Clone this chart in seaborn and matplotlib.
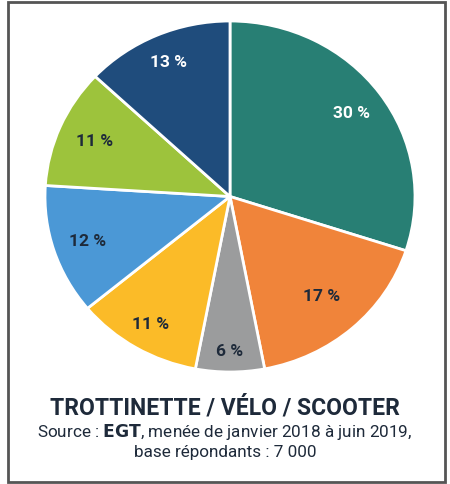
import matplotlib
matplotlib.use("Agg")
import matplotlib.pyplot as plt
import seaborn as sns
import numpy as np
from matplotlib.patches import Rectangle

sns.set_theme(style="white")
plt.rcParams['font.family'] = ['Roboto', 'DejaVu Sans']

values = [30, 17, 6, 11, 12, 11, 13]
labels = ["30 %", "17 %", "6 %", "11 %", "12 %", "11 %", "13 %"]
colors = ["#287f74", "#f0843a", "#9b9c9d", "#fbbb28", "#4b98d6", "#9dc33c", "#1f4c7c"]
label_colors = ["white", "#1e2a3a", "#1e2a3a", "#1e2a3a", "#1e2a3a", "#1e2a3a", "white"]
label_radii = [0.81, 0.75, 0.88, 0.84, 0.81, 0.80, 0.84]
title = "TROTTINETTE / VÉLO / SCOOTER"
source_line1 = "Source : $\\bf{EGT}$, menée de janvier 2018 à juin 2019,"
source_line2 = "base répondants : 7 000"

fig = plt.figure(figsize=(4.5, 4.85), dpi=100)
ax = fig.add_axes([45/450, (485-373)/485, 370/450, 351/485])
wedges, _ = ax.pie(values, colors=colors, startangle=90, counterclock=False,
                   wedgeprops=dict(edgecolor="white", linewidth=2), radius=1.0)
ax.set_aspect("auto")
ax.set_xlim(-1, 1)
ax.set_ylim(-1, 1)
cum = np.cumsum([0] + values)
for i, (v, lab) in enumerate(zip(values, labels)):
    mid = 90 - (cum[i] + v / 2) / sum(values) * 360
    r = label_radii[i]
    ax.text(r*np.cos(np.radians(mid)), r*np.sin(np.radians(mid)), lab,
            ha="center", va="center", fontsize=12.5, fontweight="bold",
            color=label_colors[i])

fig.text(0.5, 1 - 408/485, title, ha="center", va="center", fontsize=16.5,
         fontweight="bold", color="#1e2a3a")
fig.text(0.5, 1 - 432/485, source_line1, ha="center", va="center",
         fontsize=12.3, color="#1e2a3a")
fig.text(0.5, 1 - 453/485, source_line2, ha="center", va="center",
         fontsize=12.3, color="#1e2a3a")

fig.add_artist(Rectangle((8/450, 2/485), 437/450, 480/485, transform=fig.transFigure,
                         fill=False, edgecolor="#555555", linewidth=2))
fig.savefig("out.png", dpi=100, facecolor="white")
